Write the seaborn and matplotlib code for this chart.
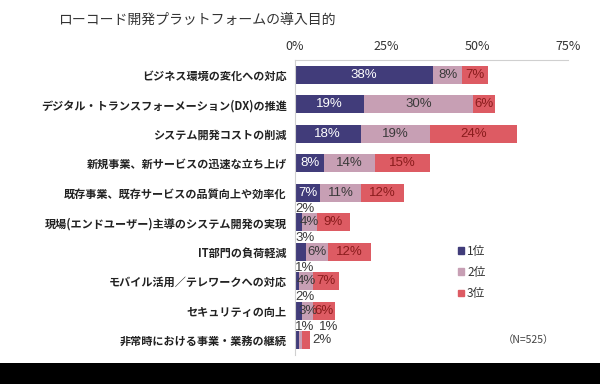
import matplotlib.pyplot as plt
import matplotlib.patches as mpatches
import numpy as np
import pandas as pd
import seaborn as sns

# data (percent of N=525)
categories = [
    "ビジネス環境の変化への対応",
    "デジタル・トランスフォーメーション(DX)の推進",
    "システム開発コストの削減",
    "新規事業、新サービスの迅速な立ち上げ",
    "既存事業、既存サービスの品質向上や効率化",
    "現場(エンドユーザー)主導のシステム開発の実現",
    "IT部門の負荷軽減",
    "モバイル活用／テレワークへの対応",
    "セキュリティの向上",
    "非常時における事業・業務の継続",
]
rank1 = [38, 19, 18, 8, 7, 2, 3, 1, 2, 1]
rank2 = [8, 30, 19, 14, 11, 4, 6, 4, 3, 1]
rank3 = [7, 6, 24, 15, 12, 9, 12, 7, 6, 2]
series_names = ["1位", "2位", "3位"]
xticks = [0, 25, 50, 75]

colors = {"1位": "#413c7a", "2位": "#c79fb4", "3位": "#dd5b63"}
text_colors = {"1位": "#ffffff", "2位": "#3a3a3a", "3位": "#8a1c1c"}

sns.set_style("white")
plt.rcParams['font.family'] = ['Noto Sans CJK JP', 'DejaVu Sans']

df = pd.DataFrame({"category": categories, "1位": rank1, "2位": rank2, "3位": rank3})
df["c1"] = df["1位"]
df["c2"] = df["1位"] + df["2位"]
df["c3"] = df["c2"] + df["3位"]

fig = plt.figure(figsize=(6, 3.84), dpi=100)
ax = fig.add_axes([295 / 600, 1 - 355 / 384, 273 / 600, 295 / 384])

# stacked bars: draw the cumulative totals back to front
for col, name in [("c3", "3位"), ("c2", "2位"), ("c1", "1位")]:
    sns.barplot(data=df, y="category", x=col, orient="h", color=colors[name],
                width=0.62, saturation=1, label=name, ax=ax, linewidth=0)

# value labels
lab_kw = dict(fontsize=9.5, family=['Liberation Sans', 'DejaVu Sans'])
for i, row in df.iterrows():
    v1, v2, v3 = row["1位"], row["2位"], row["3位"]
    top = i - 0.31
    # 1位
    if v1 <= 3:
        ax.text(0, top + 0.05, f"{v1}%", ha="left", va="bottom", color="#3a3a3a", **lab_kw)
    else:
        ax.text(v1 / 2, i, f"{v1}%", ha="center", va="center", color=text_colors["1位"], **lab_kw)
    # 2位
    if v2 <= 1:
        ax.annotate(f"{v2}%", (v1 + v2, top + 0.05), xytext=(12, 0), textcoords="offset points",
                    ha="left", va="bottom", color="#3a3a3a", **lab_kw)
    else:
        ax.text(v1 + v2 / 2, i, f"{v2}%", ha="center", va="center", color=text_colors["2位"], **lab_kw)
    # 3位
    if v3 <= 2:
        ax.text(v1 + v2 + v3 + 0.8, i, f"{v3}%", ha="left", va="center", color="#3a3a3a", **lab_kw)
    else:
        ax.text(v1 + v2 + v3 / 2, i, f"{v3}%", ha="center", va="center", color=text_colors["3位"], **lab_kw)

ax.set_xlim(0, 75)
ax.set_ylim(9.5, -0.5)
ax.set_xticks(xticks)
ax.set_xticklabels([f"{t}%" for t in xticks])
ax.xaxis.tick_top()
ax.tick_params(axis="x", length=0, pad=5, labelsize=9, labelcolor="#333333")
ax.tick_params(axis="y", length=0, pad=6, labelsize=8, labelcolor="#222222")
for lab in ax.get_yticklabels():
    lab.set_fontweight("bold")
ax.set_xlabel("")
ax.set_ylabel("")
for s in ["right", "bottom"]:
    ax.spines[s].set_visible(False)
for s in ["top", "left"]:
    ax.spines[s].set_color("#d0d0d0")
    ax.spines[s].set_linewidth(0.8)

# legend
handles = [mpatches.Patch(color=colors[n], label=n) for n in series_names]
ax.legend(handles=handles, loc="upper left", bbox_to_anchor=(447 / 600, 1 - 234 / 384),
          bbox_transform=fig.transFigure, frameon=False, fontsize=8.5,
          handlelength=0.5, handleheight=0.5, handletextpad=0.3, labelspacing=0.7,
          labelcolor="#333333")

fig.text(58 / 600, 1 - 20 / 384, "ローコード開発プラットフォームの導入目的",
         fontsize=10, color="#333333", ha="left", va="center")
fig.text(528 / 600, 1 - 340 / 384, "（N=525）", fontsize=7.5, color="#444444",
         ha="center", va="center")

# black band at the bottom
fig.patches.append(mpatches.Rectangle((0, 0), 1, 21 / 384, transform=fig.transFigure,
                                      facecolor="black", edgecolor="none", zorder=10))

fig.savefig("out.png", dpi=100, facecolor="white")
